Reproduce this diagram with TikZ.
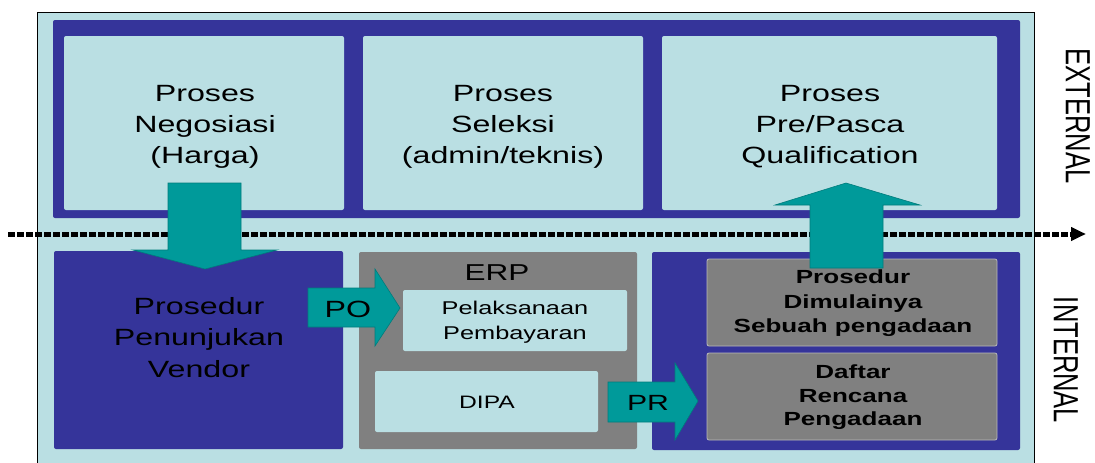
\documentclass[tikz,border=0pt]{standalone}
\usepackage{fontspec}
\setmainfont{Liberation Sans}
\usetikzlibrary{arrows.meta}
\definecolor{framebg}{HTML}{BADFE3}
\definecolor{bandblue}{HTML}{35349A}
\definecolor{erpgray}{HTML}{808080}
\definecolor{arrteal}{HTML}{009A9A}
\definecolor{arredge}{HTML}{007C7C}
\begin{document}
\begin{tikzpicture}[x=1pt,y=-1pt,
  lightbox/.style={draw=none,fill=framebg,rounded corners=2pt,inner sep=0pt},
  bluebox/.style={fill=bandblue,rounded corners=2pt,inner sep=0pt},
  graybox/.style={fill=erpgray,draw=gray!55,line width=0.8pt,rounded corners=2pt,inner sep=0pt},
  txt/.style={align=center,xscale=1.37,inner sep=0pt,text=black},
  bigtxt/.style={txt,font=\fontsize{23.5}{31}\selectfont},
  midtxt/.style={txt,font=\fontsize{18.5}{25}\selectfont},
  boldtxt/.style={txt,font=\bfseries\fontsize{19}{24}\selectfont},
  blockarrow/.style={fill=arrteal,draw=arredge,line width=0.6pt,line join=miter},
  sidetxt/.style={rotate=-90,inner sep=0pt,font=\fontsize{25.5}{30}\selectfont}
]
\useasboundingbox (0,0) rectangle (1095,463);
\fill[white] (0,0) rectangle (1095,463);
% outer frame
\fill[framebg] (37,12) rectangle (1034,463);
\draw[black,line width=1pt] (37,463) -- (37,12) -- (1034,12) -- (1034,463);
% top band
\path[bluebox] (53,20) rectangle (1020,218);
\node[lightbox,minimum width=280pt,minimum height=174pt] (neg) at (204,123) {};
\node[lightbox,minimum width=280pt,minimum height=174pt] (sel) at (503,123) {};
\node[lightbox,minimum width=335pt,minimum height=174pt] (qual) at (829.5,123) {};
\node[bigtxt] (negt) at (205,126.5) {Proses\\Negosiasi\\(Harga)};
\node[bigtxt] (selt) at (503,126.5) {Proses\\Seleksi\\(admin/teknis)};
\node[bigtxt] (qualt) at (830,126.5) {Proses\\Pre/Pasca\\Qualification};
% bottom boxes
\node[bluebox,minimum width=289pt,minimum height=198pt] (vendor) at (198.5,350) {};
\node[bigtxt,font=\fontsize{23.5}{31.5}\selectfont] (vendort) at (199,337.5) {Prosedur\\Penunjukan\\Vendor};
\node[graybox,draw=none,minimum width=278pt,minimum height=197pt] (erp) at (498,350.5) {};
\node[txt,font=\fontsize{23}{28}\selectfont] (erpt) at (497,273) {ERP};
\node[lightbox,minimum width=224pt,minimum height=61pt] (bayar) at (515,320.5) {};
\node[midtxt] (bayart) at (515,322.5) {Pelaksanaan\\Pembayaran};
\node[lightbox,minimum width=223pt,minimum height=61pt] (dipa) at (486.5,401.5) {};
\node[txt,font=\fontsize{18}{22}\selectfont] (dipat) at (487,402) {DIPA};
\node[bluebox,minimum width=368pt,minimum height=198pt] (intbox) at (836,351) {};
\node[graybox,minimum width=290pt,minimum height=87pt] (mulai) at (852,302.5) {};
\node[boldtxt,font=\bfseries\fontsize{19}{24.5}\selectfont] (mulait) at (853,303.5) {Prosedur\\Dimulainya\\Sebuah pengadaan};
\node[graybox,minimum width=290pt,minimum height=87pt] (daftar) at (852,396.5) {};
\node[boldtxt,font=\bfseries\fontsize{19}{23.5}\selectfont] (daftart) at (853,397.5) {Daftar\\Rencana\\Pengadaan};
% dotted boundary line
\coordinate (lineL) at (8,234);
\coordinate (lineR) at (1086,234);
\draw[line width=5pt,dash pattern=on 6.5pt off 2.5pt,-{Triangle[length=15pt,width=13pt]}] (lineL) -- (lineR);
% block arrows
\draw[blockarrow] (168,183) -- (241,183) -- (241,250) -- (277,250) -- (205,269) -- (133,250) -- (168,250) -- cycle;
\draw[blockarrow] (810,268) -- (883,268) -- (883,205) -- (920,205) -- (846,183) -- (775,205) -- (810,205) -- cycle;
\draw[blockarrow] (308,288) -- (375,288) -- (375,269) -- (400,308) -- (375,346) -- (375,327) -- (308,327) -- cycle;
\draw[blockarrow] (608,382) -- (675,382) -- (675,363) -- (698,401) -- (675,440) -- (675,422) -- (608,422) -- cycle;
\node[txt,font=\fontsize{23.5}{28}\selectfont] (po) at (348,309) {PO};
\node[txt,font=\fontsize{22}{26}\selectfont] (pr) at (648,402.5) {PR};
% side labels
\node[sidetxt] (ext) at (1078,116) {\scalebox{1}[1.37]{EXTERNAL}};
\node[sidetxt] (int) at (1066,360) {\scalebox{1}[1.37]{INTERNAL}};
\end{tikzpicture}
\end{document}
